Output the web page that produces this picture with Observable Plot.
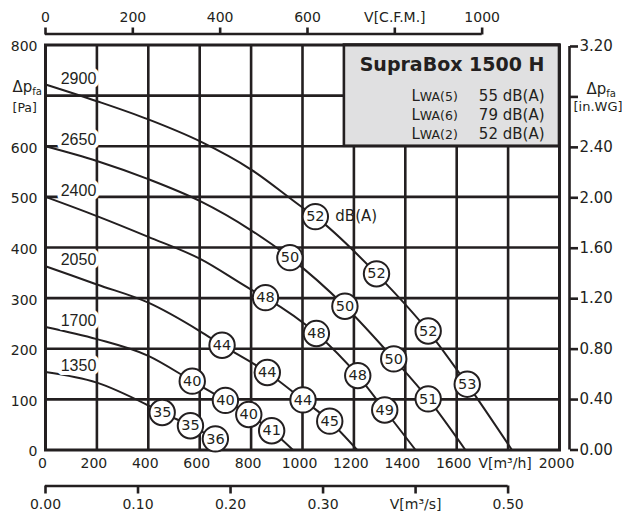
<!DOCTYPE html>
<html>
<head>
<meta charset="utf-8">
<script src="https://cdn.jsdelivr.net/npm/d3@7"></script>
<script src="https://cdn.jsdelivr.net/npm/@observablehq/plot@0.6"></script>
<style>
  html, body { margin: 0; padding: 0; background: #fff; }
</style>
</head>
<body>
<div id="chart"></div>
<script>
// ---------------- data ----------------
const flowTicks = [0, 200, 400, 600, 800, 1000, 1200, 1400, 1600, 1800, 2000]; // V [m³/h]
const pressureTicks = [0, 100, 200, 300, 400, 500, 600, 700, 800];             // Δp [Pa]
const cfmTicks = [0, 200, 400, 600, 800, 1000];                                // V [C.F.M.]
const m3sTicks = [0, 0.1, 0.2, 0.3, 0.4, 0.5];                                 // V [m³/s]
const inwgTicks = [0, 0.4, 0.8, 1.2, 1.6, 2.0, 2.4, 2.8, 3.2];                 // Δp [in.WG]

const speeds = [2900, 2650, 2400, 2050, 1700, 1350];

// fan curves: [V m³/h, Δp Pa]
const curve2900 = [[0, 722], [200, 689], [400, 653], [600, 610], [800, 554], [1000, 479], [1815, 0]];
const curve2650 = [[0, 600], [200, 571], [400, 535], [600, 492], [800, 434], [1634, 0]];
const curve2400 = [[0, 500], [200, 462], [400, 421], [600, 378], [800, 317], [1440, 0]];
const curve2050 = [[0, 363], [200, 327], [400, 291], [600, 235], [1213, 0]];
const curve1700 = [[0, 243], [200, 219], [400, 186], [963, 0]];
const curve1350 = [[0, 154], [200, 133], [400, 88]];

// sound level markers on each curve: [V m³/h, Δp Pa, dB(A)]
const sound2900 = [[1050, 461, 52], [1288, 348, 52], [1489, 235, 52], [1641, 130, 53]];
const sound2650 = [[951, 380, 50], [1165, 284, 50], [1355, 180, 50], [1489, 101, 51]];
const sound2400 = [[856, 301, 48], [1054, 230, 48], [1215, 147, 48], [1320, 79, 49]];
const sound2050 = [[687, 207, 44], [863, 153, 44], [1002, 99, 44], [1106, 57, 45]];
const sound1700 = [[571, 136, 40], [700, 98, 40], [791, 70, 40], [880, 38, 41]];
const sound1350 = [[454, 74, 35], [564, 48, 35], [661, 22, 36]];

const title = "SupraBox 1500 H";
const lwaLabels = ["LWA(5)", "LWA(6)", "LWA(2)"];
const lwaValues = ["55 dB(A)", "79 dB(A)", "52 dB(A)"];

// unit conversions
const CFM = 1.69901;   // m³/h per C.F.M.
const INWG = 249.089;  // Pa per in.WG
const M3S = 3600;      // m³/h per m³/s

// ---------------- build tables ----------------
const curveArrays = [curve2900, curve2650, curve2400, curve2050, curve1700, curve1350];
const soundArrays = [sound2900, sound2650, sound2400, sound2050, sound1700, sound1350];

const lineData = speeds.flatMap((speed, i) =>
  [...curveArrays[i], ...soundArrays[i].map(([x, y]) => [x, y])]
    .sort((a, b) => a[0] - b[0])
    .map(([x, y]) => ({speed, x, y}))
);
const dotData = speeds.flatMap((speed, i) =>
  soundArrays[i].map(([x, y, db]) => ({speed, x, y, db}))
);
const startData = speeds.map((speed, i) => ({speed, x: curveArrays[i][0][0], y: curveArrays[i][0][1]}));

const INK = "#231f20";
const SW = 2.6;

const chart = Plot.plot({
  width: 622,
  height: 515,
  marginLeft: 45,
  marginRight: 63,
  marginTop: 44.5,
  marginBottom: 65.5,
  x: {domain: [0, 2000], label: null},
  y: {domain: [0, 800], label: null},
  style: {fontFamily: "'DejaVu Sans', sans-serif", fontSize: "14px", background: "white", color: INK, overflow: "visible"},
  marks: [
    // grid
    Plot.ruleX(flowTicks.slice(1, -1), {stroke: INK, strokeWidth: SW}),
    Plot.ruleY(pressureTicks.slice(1, -1), {stroke: INK, strokeWidth: SW}),
    // title box
    Plot.rect([title], {x1: 1163, x2: 2000, y1: 600, y2: 800, fill: "#e0e0e1", stroke: INK, strokeWidth: SW}),
    Plot.frame({stroke: INK, strokeWidth: 3}),

    // fan curves
    Plot.line(lineData, {x: "x", y: "y", z: "speed", curve: "monotone-x", stroke: INK, strokeWidth: 2}),
    // speed labels
    Plot.text(startData, {x: "x", y: "y", text: d => String(d.speed), dx: 33, dy: -6,
      fontFamily: "'Liberation Sans', sans-serif", fontSize: 16, fill: INK,
      stroke: "white", strokeWidth: 8, paintOrder: "stroke"}),

    // sound markers
    Plot.dot(dotData, {x: "x", y: "y", r: 12.7, fill: "white", stroke: INK, strokeWidth: 2}),
    Plot.text(dotData, {x: "x", y: "y", text: d => String(d.db), fontSize: 14.5, fill: INK}),
    Plot.text(dotData.slice(0, 1), {x: "x", y: "y", text: () => "dB(A)", dx: 20, textAnchor: "start", fontSize: 15, fill: INK}),

    // box texts
    Plot.text([title], {frameAnchor: "top-right", dx: -15, dy: 12, lineAnchor: "top", textAnchor: "end",
      fontWeight: "bold", fontSize: 19, fill: INK}),
    Plot.text([lwaLabels.join("\n")], {frameAnchor: "top-right", dx: -148, dy: 42, lineAnchor: "top",
      textAnchor: "start", lineHeight: 1.28, fontSize: 15, fill: INK}),
    Plot.text([lwaValues.join("\n")], {frameAnchor: "top-right", dx: -15, dy: 42, lineAnchor: "top",
      textAnchor: "end", lineHeight: 1.28, fontSize: 15, fill: INK}),

    // left axis (Pa)
    Plot.axisY({ticks: pressureTicks, tickSize: 0, tickPadding: 8, dy: 2, color: INK, label: null,
      tickFormat: d => d === 700 ? "" : String(d)}),
    Plot.text(["Δpfa"], {x: 0, y: 700, dx: -33, dy: -8, textAnchor: "start", fontSize: 15, fill: INK}),
    Plot.text(["[Pa]"], {x: 0, y: 700, dx: -33, dy: 12, textAnchor: "start", fontSize: 12.5, fill: INK}),

    // bottom axis (m³/h)
    Plot.axisX({ticks: flowTicks, tickSize: 0, tickPadding: 8, dx: -3, color: INK, label: null,
      tickFormat: d => d === 1800 ? "V[m³/h]" : String(d)}),

    // bottom secondary axis (m³/s)
    Plot.ruleY([0], {x1: 0, x2: m3sTicks[m3sTicks.length - 1] * M3S, dy: 36, stroke: INK, strokeWidth: SW}),
    Plot.axisX({ticks: m3sTicks.map(s => s * M3S), tickSize: 8, tickPadding: 5, dy: 36, strokeWidth: SW, color: INK, label: null,
      tickFormat: v => { const s = Math.round(v / 360) / 10; return s === 0.4 ? "V[m³/s]" : s.toFixed(2); }}),

    // top secondary axis (C.F.M.)
    Plot.ruleY([800], {x1: 0, x2: cfmTicks[cfmTicks.length - 1] * CFM, dy: -11, stroke: INK, strokeWidth: SW}),
    Plot.axisX({anchor: "top", ticks: cfmTicks.map(c => c * CFM), tickSize: 7, tickPadding: 5, dy: -11, strokeWidth: SW, color: INK, label: null,
      tickFormat: v => { const c = Math.round(v / CFM); return c === 800 ? "V[C.F.M.]" : String(c); }}),

    // right secondary axis (in.WG)
    Plot.ruleX([2000], {y1: 0, y2: inwgTicks[inwgTicks.length - 1] * INWG, dx: 10, stroke: INK, strokeWidth: SW}),
    Plot.axisY({anchor: "right", ticks: inwgTicks.map(w => w * INWG), tickSize: 8, tickPadding: 2, dx: 10, strokeWidth: SW,
      fontSize: 15, color: INK, label: null,
      tickFormat: v => { const w = Math.round(v / INWG * 100) / 100; return w === 2.8 ? "" : w.toFixed(2); }}),
    Plot.text(["Δpfa"], {x: 2000, y: inwgTicks[7] * INWG, dx: 27, dy: -8, textAnchor: "start", fontSize: 15, fill: INK}),
    Plot.text(["[in.WG]"], {x: 2000, y: inwgTicks[7] * INWG, dx: 14, dy: 10, textAnchor: "start", fontSize: 13, fill: INK})
  ]
});

document.getElementById("chart").appendChild(chart);

// subscripts / smaller parts of labels
const svg = d3.select(chart.tagName.toLowerCase() === "svg" ? chart : chart.querySelector("svg"));
svg.selectAll("text").filter(function () { return this.textContent === "Δpfa" && !this.querySelector("tspan"); })
  .each(function () {
    const t = d3.select(this);
    t.text("");
    t.append("tspan").text("Δp");
    t.append("tspan").attr("font-size", 10).attr("dy", 3).text("fa");
  });
svg.selectAll("tspan").filter(function () { return /^LWA/.test(this.textContent); })
  .each(function () {
    const s = this.textContent;
    const t = d3.select(this);
    t.text("L");
    t.append("tspan").attr("font-size", 12.5).text(s.slice(1));
  });
</script>
</body>
</html>
